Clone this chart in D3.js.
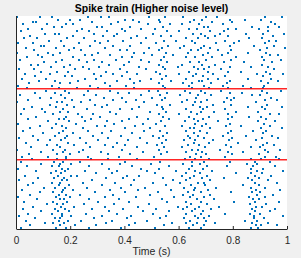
<!DOCTYPE html>
<html><head><meta charset="utf-8">
<script src="https://cdn.jsdelivr.net/npm/d3@7"></script>
<style>html,body{margin:0;padding:0;background:#f0f0f0;}svg{display:block;}</style>
</head><body>
<script>
// spike times (thousandths of a second), one string per trial, top to bottom
const groupA = [
"002 087 131 265 312 344 489 551 618 702 741 917 981","156 198 237 402 433 529 655 688 788 845 903",
"061 072 281 376 455 531 642 724 797 942","024 113 184 209 352 486 568 611 677 763 955",
"139 171 298 318 419 542 694 708 870 929 972","046 095 244 391 462 514 637 667 781 812 896",
"018 226 268 335 401 557 601 715 768 931","108 145 159 287 374 507 653 682 752 849 913 988",
"053 209 322 361 447 535 572 699 733 784 949","029 077 188 252 426 479 626 673 707 861 908",
"121 167 293 339 396 547 589 648 772 824 934 961","009 062 234 309 463 518 662 739 806 917",
"091 102 177 274 357 421 561 621 694 788 877 953","037 148 214 329 492 539 604 683 716 928 994",
"068 196 241 383 408 526 645 671 746 792 899","003 119 163 302 437 471 553 634 707 781 857 921",
"081 136 255 279 348 503 581 689 761 938 967","042 097 212 391 428 545 626 659 722 810 906",
"016 171 233 289 368 462 534 701 793 915 978","105 149 262 316 417 489 556 641 676 769 843 944",
"057 083 199 345 398 527 612 688 735 907","128 178 247 305 454 541 597 658 712 789 869 931",
"010 066 219 271 384 479 548 673 694 758 953","094 153 192 331 409 516 639 707 781 829 922",
"033 124 288 357 446 533 601 664 727 888 937 987","071 181 206 314 391 553 652 691 773 911",
"021 112 253 296 422 498 538 627 709 746 856 941","086 143 229 372 457 571 674 686 791 904 968",
"048 164 201 327 434 526 615 649 718 779 929","006 131 273 348 406 544 637 694 762 838 916"];
const groupB = [
"039 158 226 303 437 548 651 711 781 867 913","112 182 264 348 489 523 622 684 757 908 977",
"071 143 197 376 418 559 641 697 789 834 926","014 167 251 296 462 531 605 672 718 872 899",
"087 129 181 324 391 503 548 664 779 806 941","046 208 273 357 441 537 631 703 792 918 964",
"002 153 171 239 406 472 612 659 684 768 887","124 189 292 335 521 569 652 726 794 928",
"058 146 215 318 453 539 678 706 855 906 981","031 096 174 261 382 427 543 627 691 772 917",
"107 161 193 347 496 553 646 681 731 812 894","019 137 228 284 369 528 601 667 781 936 971",
"073 184 243 311 448 541 639 714 798 858 904","043 159 178 277 416 486 564 656 691 783 922",
"118 196 256 336 391 536 624 672 746 892 957","008 148 221 362 467 517 661 701 789 914",
"089 169 299 328 438 549 613 688 776 831 938","051 132 186 246 403 496 642 658 717 903 983",
"026 173 267 352 473 533 627 679 793 874 921","101 157 209 318 429 556 655 706 782 911",
"064 144 188 283 387 507 541 633 671 764 848 944","012 179 236 341 458 529 641 694 797 906 968",
"081 126 167 301 412 552 619 662 728 787 886","036 192 258 372 483 537 658 712 818 927",
"113 151 213 329 401 519 633 677 776 913 951","055 163 274 357 446 546 612 697 793 866 902",
"004 138 181 248 391 528 648 673 751 919 976","092 174 231 313 469 557 626 688 783 837 931",
"047 152 201 339 422 534 664 702 797 896","023 118 186 264 381 511 641 682 772 918 959"];
const groupC = [
"058 151 183 276 339 447 623 661 712 868 903 971","017 139 174 238 401 532 648 694 789 882 937",
"093 162 204 317 382 497 617 679 852 891","041 133 158 269 428 566 651 706 779 874 957",
"006 171 192 343 461 529 638 689 867 911","072 146 181 256 372 482 591 662 724 889 984",
"128 166 297 353 513 627 678 813 869 906","034 154 203 224 408 453 612 657 703 881 942",
"081 141 178 331 395 541 643 688 769 857 898","012 168 187 279 436 579 629 716 872 929",
"063 131 162 248 366 504 604 671 694 881 963","046 157 196 317 423 553 644 699 836 897",
"103 144 181 263 387 477 621 662 738 866 917","022 172 209 346 449 571 656 708 884 976",
"088 136 168 291 404 523 634 683 792 872 901","053 159 184 237 358 496 617 652 717 889 948",
"008 147 201 329 443 583 641 692 861 917","076 163 177 268 381 537 668 729 874 896",
"031 138 189 304 417 558 626 681 806 883 971","114 152 173 251 363 491 647 704 863 924",
"061 167 214 327 452 597 631 676 749 887 907","027 143 182 282 396 518 616 659 719 871 954",
"094 156 197 344 468 563 649 691 883 936","044 134 171 259 371 506 627 684 773 864 899",
"011 168 203 318 426 552 661 712 877 986","069 145 163 286 409 531 621 673 692 879 916",
"037 158 191 241 356 484 643 701 846 889","108 137 176 333 438 574 628 667 736 871 931",
"052 163 217 297 417 546 652 694 884 903 962","019 149 184 271 389 513 637 681 868 893"];
const separators = [31.2, 61.2];
const xTicks = [0, 0.2, 0.4, 0.6, 0.8, 1];
const xTickLabels = ["0", "0.2", "0.4", "0.6", "0.8", "1"];
const titleText = "Spike train (Higher noise level)";
const xLabel = "Time (s)";

const W = 301, H = 258;
const L = 16, R = 287, T = 16, B = 229;
const trials = groupA.concat(groupB, groupC);
const spikes = [];
trials.forEach((s, i) => s.split(" ").forEach(v => spikes.push({trial: i + 1, t: +v / 1000})));

const x = d3.scaleLinear().domain([0, 1]).range([L, R]);
const y = d3.scaleLinear().domain([0.5, trials.length + 0.5]).range([T, B]);

const svg = d3.select("body").append("svg").attr("width", W).attr("height", H);
svg.append("rect").attr("width", W).attr("height", H).attr("fill", "#f0f0f0");
svg.append("rect").attr("x", L).attr("y", T).attr("width", R - L).attr("height", B - T).attr("fill", "#ffffff");

svg.append("g").selectAll("rect").data(spikes).join("rect")
  .attr("x", d => Math.round(x(d.t)) - 1).attr("y", d => Math.round(y(d.trial)) - 1)
  .attr("width", 2).attr("height", 2).attr("fill", "#0072BD");

svg.append("g").selectAll("line").data(separators).join("line")
  .attr("x1", L).attr("x2", R).attr("y1", d => y(d)).attr("y2", d => y(d))
  .attr("stroke", "#ff0000").attr("stroke-width", 1.5).attr("opacity", 0.85);

const ax = d3.axisBottom(x).tickValues(xTicks).tickFormat((d, i) => xTickLabels[i])
  .tickSizeInner(-3).tickSizeOuter(0).tickPadding(8);
const gx = svg.append("g").attr("transform", `translate(0,${B})`).call(ax);
gx.select(".domain").attr("stroke", "#262626");
gx.selectAll(".tick line").attr("stroke", "#262626");
gx.selectAll("text").attr("fill", "#262626").attr("font-family", "Liberation Sans, Arial, sans-serif").attr("font-size", 10);

svg.append("line").attr("x1", L + 0.5).attr("x2", L + 0.5).attr("y1", T).attr("y2", B)
  .attr("stroke", "#262626").attr("stroke-width", 1);

svg.append("text").attr("x", (L + R) / 2).attr("y", 12).attr("text-anchor", "middle")
  .attr("font-family", "Liberation Sans, Arial, sans-serif").attr("font-size", 10.5).attr("font-weight", "bold")
  .attr("fill", "#000").text(titleText);
svg.append("text").attr("x", (L + R) / 2).attr("y", 255).attr("text-anchor", "middle")
  .attr("font-family", "Liberation Sans, Arial, sans-serif").attr("font-size", 10.5)
  .attr("fill", "#262626").text(xLabel);
</script>
</body></html>
